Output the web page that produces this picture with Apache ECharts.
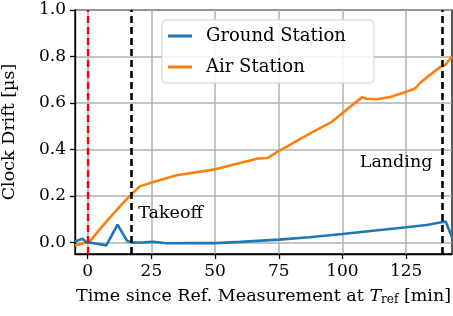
<!DOCTYPE html>
<html>
<head>
<meta charset="utf-8">
<script src="https://cdn.jsdelivr.net/npm/echarts@6/dist/echarts.min.js"></script>
<style>html,body{margin:0;padding:0;background:#fff}#c{width:453px;height:316px}</style>
</head>
<body>
<div id="c"></div>
<script>
const groundT = [-5, -2.1, -0.5, 3, 7.3, 11.7, 15.5, 17.8, 22, 25.7, 31, 40, 50, 60, 75, 87, 100, 112, 125, 133, 140.5, 143];
const groundV = [0.004, 0.016, 0.001, -0.005, -0.013, 0.076, 0.006, -0.001, 0.0, 0.003, -0.004, -0.003, -0.003, 0.002, 0.012, 0.022, 0.036, 0.05, 0.065, 0.075, 0.09, 0.023];
const airT = [-5, 0.8, 6, 12.6, 17.2, 20.4, 25.7, 34.9, 49.3, 59.7, 66.9, 70.5, 74.8, 87.3, 95.8, 107.6, 109.6, 113.5, 118.7, 123.9, 128.5, 130.5, 133.1, 136.4, 138.4, 140.3, 143];
const airV = [-0.013, 0.004, 0.073, 0.155, 0.207, 0.241, 0.26, 0.289, 0.313, 0.342, 0.361, 0.363, 0.392, 0.469, 0.519, 0.624, 0.618, 0.616, 0.626, 0.644, 0.662, 0.687, 0.71, 0.738, 0.755, 0.763, 0.8];
const xTicks = [0, 25, 50, 75, 100, 125];
const yTicks = [0, 0.2, 0.4, 0.6, 0.8, 1.0];
const refLine = 0, takeoffT = 17.2, landingT = 139.2;
const seriesNames = ['Ground Station', 'Air Station'];

const FONT = 'DejaVu Serif';
const chart = echarts.init(document.getElementById('c'));
const zipXY = (t, v) => t.map((x, i) => [x, v[i]]);
chart.setOption({
  animation: false,
  textStyle: { fontFamily: FONT, color: '#000' },
  grid: { left: 75, right: 1, top: 10, bottom: 62, outerBoundsMode: 'none', containLabel: false, show: true, borderColor: '#000', borderWidth: 1.3, backgroundColor: 'transparent' },
  legend: {
    left: 162, top: 20, orient: 'vertical', icon: 'rect', itemWidth: 24, itemHeight: 3, itemGap: 11,
    padding: [6, 28, 6, 6], backgroundColor: 'rgba(255,255,255,0.85)', borderColor: '#d0d0d0', borderWidth: 1, borderRadius: 4,
    textStyle: { fontFamily: FONT, fontSize: 18, color: '#000', lineHeight: 20, padding: [0, 0, 0, 9] },
    data: seriesNames
  },
  xAxis: {
    type: 'value', min: -5, max: 143,
    name: 'Time since Ref. Measurement at {it|T}{sub|ref} [min]', nameLocation: 'middle', nameGap: 32,
    nameTextStyle: { fontFamily: FONT, fontSize: 17.5, color: '#000', lineHeight: 20,
      rich: { it: { fontFamily: FONT, fontSize: 17.5, fontStyle: 'italic', lineHeight: 20 },
              sub: { fontFamily: FONT, fontSize: 12, lineHeight: 12, verticalAlign: 'bottom' } } },
    axisLine: { show: true, onZero: false, lineStyle: { color: '#000', width: 1.3 } },
    axisTick: { show: true, length: 5, lineStyle: { color: '#000', width: 1.3 }, customValues: xTicks },
    axisLabel: { fontFamily: FONT, fontSize: 17, color: '#000', margin: 9, customValues: xTicks },
    splitLine: { show: true, lineStyle: { color: '#b0b0b0', width: 1.5 } }
  },
  yAxis: {
    type: 'value', min: -0.05, max: 1.0,
    name: 'Clock Drift [µs]', nameLocation: 'middle', nameGap: 57, nameRotate: 90,
    nameTextStyle: { fontFamily: FONT, fontSize: 17.5, color: '#000' },
    axisLine: { show: true, onZero: false, lineStyle: { color: '#000', width: 1.3 } },
    axisTick: { show: true, length: 5, lineStyle: { color: '#000', width: 1.3 }, customValues: yTicks },
    axisLabel: { fontFamily: FONT, fontSize: 17, color: '#000', margin: 9, customValues: yTicks, formatter: v => v.toFixed(1) },
    splitLine: { show: true, lineStyle: { color: '#b0b0b0', width: 1.5 } }
  },
  series: [
    {
      name: seriesNames[0], type: 'line', data: zipXY(groundT, groundV), showSymbol: false, symbol: 'none',
      lineStyle: { color: '#1f77b4', width: 2.6 }, itemStyle: { color: '#1f77b4' }, z: 3,
      markLine: {
        silent: true, symbol: 'none', label: { show: false }, animation: false,
        data: [
          { xAxis: refLine, lineStyle: { color: '#ff0000', type: [7, 4], width: 2.4 } },
          { xAxis: takeoffT, lineStyle: { color: '#000', type: [7, 4], width: 2.6 } },
          { xAxis: landingT, lineStyle: { color: '#000', type: [7, 4], width: 2.6 } }
        ]
      }
    },
    {
      name: seriesNames[1], type: 'line', data: zipXY(airT, airV), showSymbol: false, symbol: 'none',
      lineStyle: { color: '#ff7f0e', width: 2.6 }, itemStyle: { color: '#ff7f0e' }, z: 2,
      markPoint: {
        symbol: 'circle', symbolSize: 0, silent: true,
        data: [
          { coord: [19.8, 0.125], label: { show: true, formatter: 'Takeoff', position: 'right', distance: 0, fontFamily: FONT, fontSize: 17.5, color: '#000' } },
          { coord: [135.3, 0.345], label: { show: true, formatter: 'Landing', position: 'left', distance: 0, fontFamily: FONT, fontSize: 17.5, color: '#000' } }
        ]
      }
    }
  ]
});
</script>
</body>
</html>
